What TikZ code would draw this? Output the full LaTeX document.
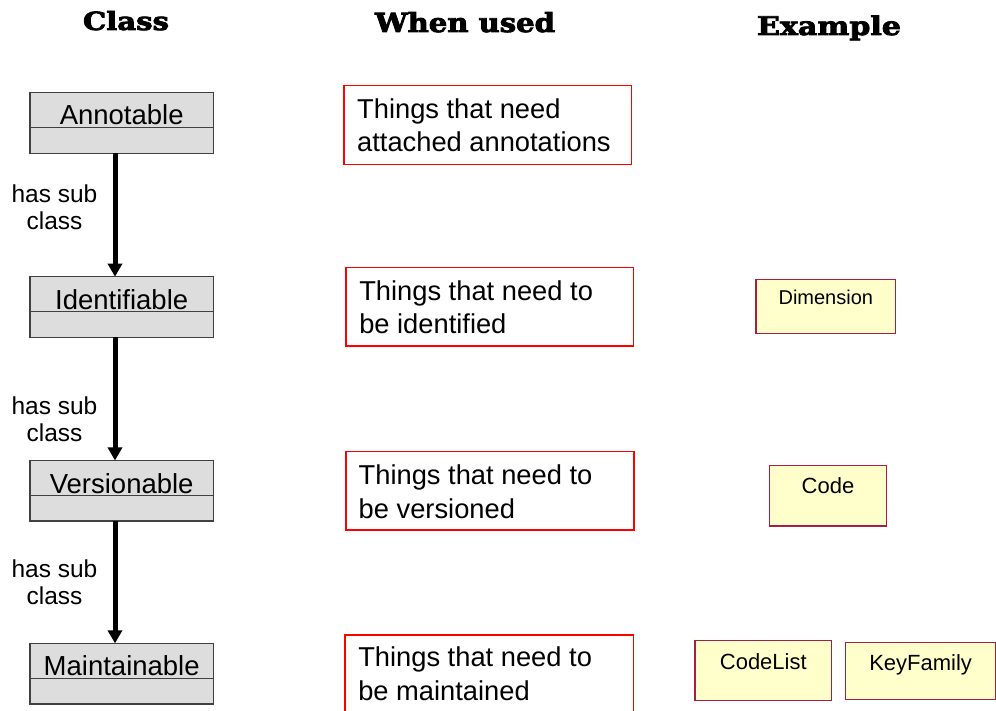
\documentclass[tikz,border=0pt]{standalone}
\usepackage{fontspec}
\usepackage{graphicx}
\setmainfont{Liberation Sans}
\newfontfamily\headfont{DejaVu Serif Bold}[FakeBold=3]
\usetikzlibrary{arrows.meta,calc}

\definecolor{classfill}{HTML}{DDDDDD}
\definecolor{classedge}{HTML}{404040}
\definecolor{usered}{HTML}{FF0000}
\definecolor{exfill}{HTML}{FFFFCC}
\definecolor{exedge}{RGB}{165,30,70}

% two-line text whose base is the baseline of its first line
\newcommand{\twoline}[3][l]{\begin{tabular}[t]{@{}#1@{}}#2\\#3\end{tabular}}
% column heading in a heavy slab face, forced to width and height
\newcommand{\colhead}[3]{\resizebox{#1}{#2}{\headfont #3}}

\begin{document}
\begin{tikzpicture}[x=1pt,y=-1pt,
  classbox/.style={draw=classedge, fill=classfill, line width=1.3pt, inner sep=0pt, outer sep=0pt, minimum width=183.3pt},
  classrule/.style={draw=classedge, line width=1.3pt},
  classname/.style={anchor=base, inner sep=0pt, font=\fontsize{27.5}{30}\selectfont},
  subarrow/.style={line width=5pt, -{Triangle[length=13pt,width=14pt]}},
  sublabel/.style={anchor=base, inner sep=0pt, font=\fontsize{24.5}{26.7}\selectfont},
  usebox/.style={draw=usered, line width=1.3pt, inner sep=0pt, outer sep=0pt},
  usetext/.style={anchor=base west, inner sep=0pt, font=\fontsize{27.3}{33.3}\selectfont},
  exbox/.style={draw=exedge, fill=exfill, line width=1.3pt, inner sep=0pt, outer sep=0pt},
  extext/.style={anchor=base, inner sep=0pt, font=\fontsize{22}{24}\selectfont},
  headtext/.style={anchor=base, inner sep=0pt}
]
\useasboundingbox (0,0) rectangle (996,711);
\fill[white] (0,0) rectangle (996,711);
\clip (0,0) rectangle (996,711);

% column headings
\node[headtext] (hclass) at (126,30) {\colhead{86pt}{19pt}{Class}};
\node[headtext] (hwhen) at (465,32) {\colhead{180pt}{20pt}{When used}};
\node[headtext] (hex) at (829,35) {\colhead{144pt}{19.5pt}{Example}};

% class boxes
\node[classbox, minimum height=61pt] (annot) at (121.7,122.8) {};
\node[classbox, minimum height=60.6pt] (ident) at (121.7,307) {};
\node[classbox, minimum height=60.5pt] (version) at (121.7,490.7) {};
\node[classbox, minimum height=60.7pt] (maint) at (121.7,673.7) {};

\foreach \c/\t in {annot/Annotable, ident/Identifiable, version/Versionable, maint/Maintainable}{
  \draw[classrule] ($(\c.north west)+(0,35)$) -- ($(\c.north east)+(0,35)$);
  \node[classname] (\c-name) at ($(\c.north)+(0,32.6)$) {\t};
}

% sub-class connectors
\draw[subarrow] ($(annot.south)+(-6.7,0)$) -- ($(ident.north)+(-6.7,0)$);
\draw[subarrow] ($(ident.south)+(-6.7,0)$) -- ($(version.north)+(-6.7,0)$);
\draw[subarrow] ($(version.south)+(-6.7,0)$) -- ($(maint.north)+(-6.7,0)$);

\node[sublabel] (lab1) at (54.5,202.7) {\twoline[c]{has sub}{class}};
\node[sublabel] (lab2) at (54.5,414.3) {\twoline[c]{has sub}{class}};
\node[sublabel] (lab3) at (54.5,577.7) {\twoline[c]{has sub}{class}};

% "when used" boxes
\node[usebox, minimum width=287.7pt, minimum height=78.6pt] (useA) at (487.8,125) {};
\node[usebox, minimum width=287.3pt, minimum height=78.3pt] (useB) at (489.7,306.8) {};
\node[usebox, minimum width=288pt, minimum height=78.3pt] (useC) at (490,490.8) {};
\node[usebox, minimum width=288.3pt, minimum height=90pt] (useD) at (489.2,680) {};

\node[usetext] (useA-t) at ($(useA.north west)+(13,32.6)$) {\twoline{Things that need}{attached annotations}};
\node[usetext] (useB-t) at ($(useB.north west)+(13,32.5)$) {\twoline{Things that need to}{be identified}};
\node[usetext] (useC-t) at ($(useC.north west)+(12.5,33.2)$) {\twoline{Things that need to}{be versioned}};
\node[usetext] (useD-t) at ($(useD.north west)+(13,31.7)$) {\twoline{Things that need to}{be maintained}};

% example classes
\node[exbox, minimum width=139.7pt, minimum height=54pt] (dim) at (825.8,306.3) {};
\node[exbox, minimum width=117.4pt, minimum height=60.3pt] (code) at (828,495.8) {};
\node[exbox, minimum width=136.7pt, minimum height=60pt] (codelist) at (763.3,670.7) {};
\node[exbox, minimum width=149.8pt, minimum height=56.6pt] (keyfam) at (920.6,671) {};

\node[extext, font=\fontsize{20}{22}\selectfont] (dim-t) at ($(dim.north)+(0,25)$) {Dimension};
\node[extext] (code-t) at ($(code.north)+(0,27.6)$) {Code};
\node[extext] (codelist-t) at ($(codelist.north)+(0,28.6)$) {CodeList};
\node[extext] (keyfam-t) at ($(keyfam.north)+(0,27.3)$) {KeyFamily};
\end{tikzpicture}
\end{document}
